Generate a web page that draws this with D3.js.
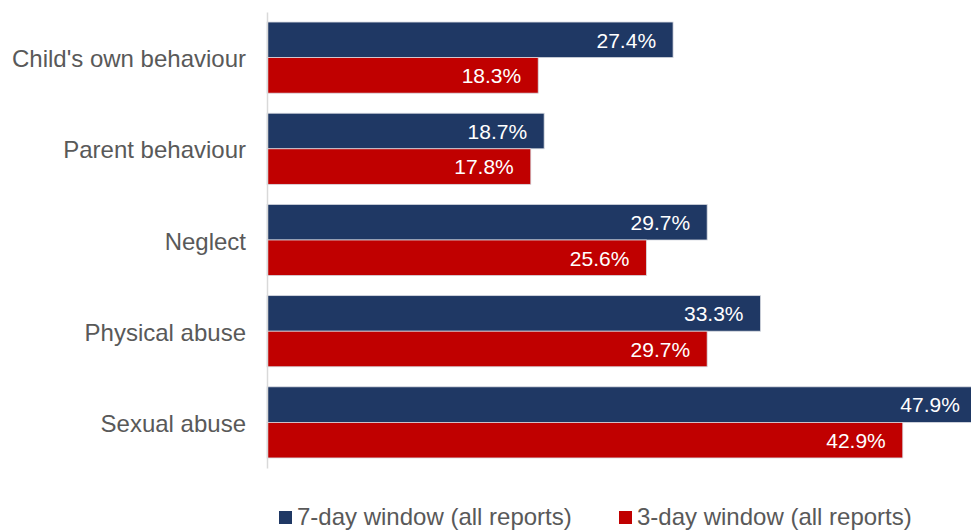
<!DOCTYPE html>
<html>
<head>
<meta charset="utf-8">
<script src="https://cdn.jsdelivr.net/npm/d3@7"></script>
<style>
  html, body { margin: 0; padding: 0; background: #ffffff; }
  svg { display: block; font-family: "Liberation Sans", Arial, sans-serif; }
</style>
</head>
<body>
<svg id="chart" width="971" height="531"></svg>
<script>
// Report categories, top to bottom
const categories = ["Child's own behaviour", "Parent behaviour", "Neglect", "Physical abuse", "Sexual abuse"];
// Series names as shown in the legend
const seriesNames = ["7-day window (all reports)", "3-day window (all reports)"];
// Percentages per category
const sevenDay = [27.4, 18.7, 29.7, 33.3, 47.9];
const threeDay = [18.3, 17.8, 25.6, 29.7, 42.9];
const seriesColors = ["#1F3864", "#C00000"];

const svg = d3.select("#chart");

const x = d3.scaleLinear().domain([0, 50]).range([267, 267 + 741]);
const y = d3.scaleBand().domain(categories).range([12, 468]).paddingInner(0.22).paddingOuter(0.11);
const sub = d3.scaleBand().domain([0, 1]).range([0, y.bandwidth()]);

const rows = categories.map((c, i) => ({ cat: c, vals: [sevenDay[i], threeDay[i]] }));

// Bars with value labels inside their ends
const g = svg.append("g");
rows.forEach(r => {
  r.vals.forEach((v, k) => {
    g.append("rect")
      .attr("x", x(0))
      .attr("y", y(r.cat) + sub(k))
      .attr("width", x(v) - x(0))
      .attr("height", sub.bandwidth())
      .attr("fill", seriesColors[k])
      .attr("stroke", "#d6d9e0")
      .attr("stroke-width", 0.8);
    g.append("text")
      .attr("x", x(v) - 17)
      .attr("y", y(r.cat) + sub(k) + sub.bandwidth() / 2)
      .attr("dy", "0.37em")
      .attr("text-anchor", "end")
      .attr("fill", "#ffffff")
      .attr("font-size", 21)
      .text(v.toFixed(1) + "%");
  });
});

// Category axis
const axis = svg.append("g")
  .attr("transform", `translate(${x(0)},0)`)
  .call(d3.axisLeft(y).tickSize(0).tickSizeOuter(0).tickPadding(21));
axis.select(".domain").attr("stroke", "#d9d9d9").attr("stroke-width", 1.5);
axis.selectAll(".tick text")
  .attr("dy", "0.4em")
  .attr("font-size", 24)
  .attr("fill", "#595959")
  .attr("font-family", "\"Liberation Sans\", Arial, sans-serif");

// Legend
const legendX = [279, 619];
const legend = svg.append("g");
seriesNames.forEach((name, k) => {
  legend.append("rect")
    .attr("x", legendX[k]).attr("y", 511)
    .attr("width", 13).attr("height", 13)
    .attr("fill", seriesColors[k]);
  legend.append("text")
    .attr("x", legendX[k] + 18).attr("y", 525)
    .attr("font-size", 24)
    .attr("fill", "#595959")
    .text(name);
});
</script>
</body>
</html>
